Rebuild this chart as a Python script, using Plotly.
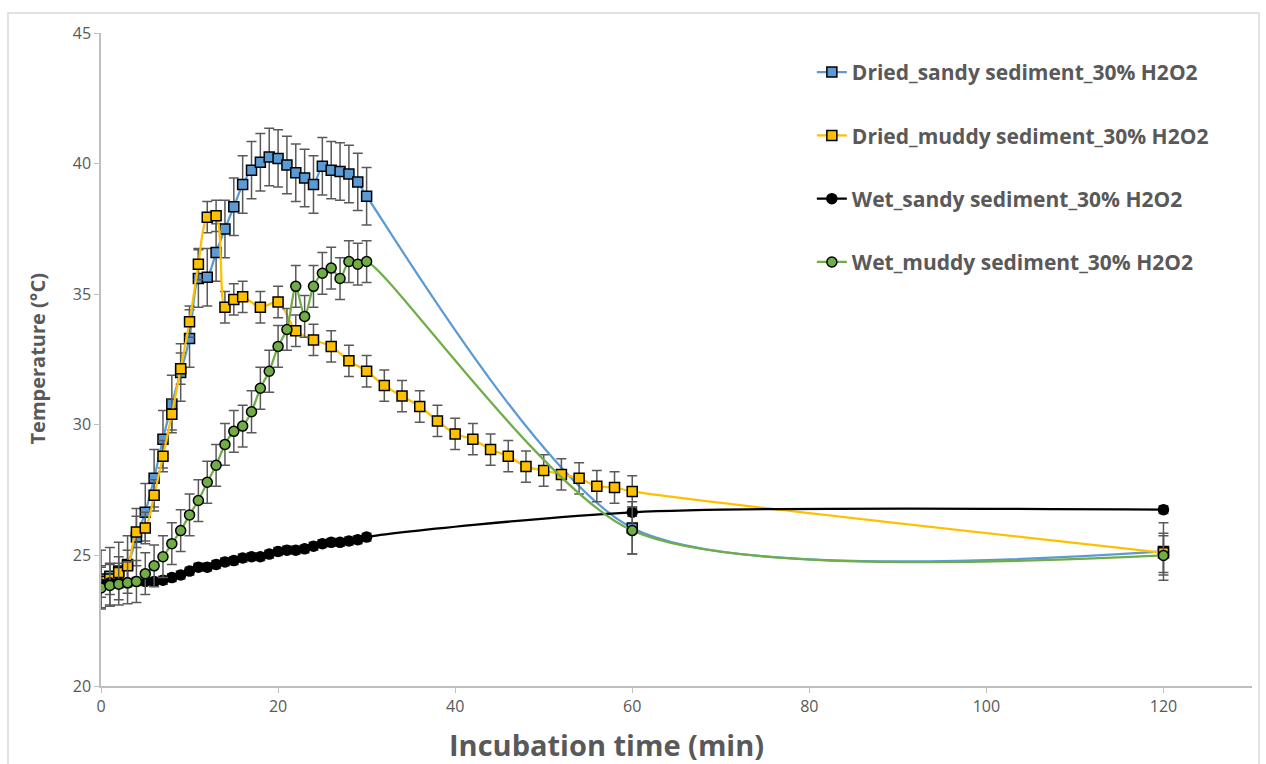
import plotly.graph_objects as go

# ---------------- data ----------------
t_sandy = list(range(0, 31)) + [60, 120]
dried_sandy = [24.1, 24.2, 24.4, 24.65, 25.7, 26.65, 27.95, 29.45, 30.8, 32.0,
               33.3, 35.6, 35.65, 36.6, 37.5, 38.35, 39.2, 39.75, 40.05, 40.25,
               40.2, 39.95, 39.65, 39.45, 39.2, 39.9, 39.75, 39.7, 39.6, 39.3,
               38.75, 26.05, 25.15]
dried_sandy_err = [1.1] * 31 + [1.0, 1.1]

t_muddy_dried = list(range(0, 17)) + list(range(18, 61, 2)) + [120]
dried_muddy = [24.0, 24.1, 24.35, 24.6, 25.9, 26.05, 27.3, 28.8, 30.4, 32.15,
               33.95, 36.15, 37.95, 38.0, 34.5, 34.8, 34.9,
               34.5, 34.7, 33.6, 33.25, 33.0, 32.45, 32.05, 31.5, 31.1, 30.7,
               30.15, 29.65, 29.45, 29.05, 28.8, 28.4, 28.25, 28.1, 27.95, 27.65,
               27.6, 27.45, 25.1]
dried_muddy_err = [0.6] * 39 + [0.75]

t_wet = list(range(0, 31)) + [60, 120]
wet_sandy = [23.9, 23.95, 23.95, 23.95, 24.0, 24.0, 24.0, 24.05, 24.15, 24.25,
             24.4, 24.55, 24.55, 24.65, 24.75, 24.8, 24.9, 24.95, 24.95, 25.05,
             25.15, 25.2, 25.2, 25.25, 25.35, 25.45, 25.5, 25.5, 25.55, 25.6,
             25.7, 26.65, 26.75]
wet_sandy_err = [0.15] * 33

wet_muddy = [23.75, 23.85, 23.9, 23.95, 24.0, 24.3, 24.6, 24.95, 25.45, 25.95,
             26.55, 27.1, 27.8, 28.45, 29.25, 29.75, 29.95, 30.5, 31.4, 32.05,
             33.0, 33.65, 35.3, 34.15, 35.3, 35.8, 36.0, 35.6, 36.25, 36.15,
             36.25, 25.95, 25.0]
wet_muddy_err = [0.8] * 31 + [0.9, 0.75]

names = ["Dried_sandy sediment_30% H2O2", "Dried_muddy sediment_30% H2O2",
         "Wet_sandy sediment_30% H2O2", "Wet_muddy sediment_30% H2O2"]
x_ticks = [0, 20, 40, 60, 80, 100, 120]
y_ticks = [20, 25, 30, 35, 40, 45]

# ---------------- style ----------------
FONT = "Open Sans"
GREY = "#595959"
series = [
    (t_sandy, dried_sandy, dried_sandy_err, "#5B9BD5", "square", 0.75),
    (t_muddy_dried, dried_muddy, dried_muddy_err, "#FFC000", "square", 0.9),
    (t_wet, wet_sandy, wet_sandy_err, "#000000", "circle", 0.8),
    (t_wet, wet_muddy, wet_muddy_err, "#70AD47", "circle", 0.75),
]

fig = go.Figure()
for i, (x, y, e, col, sym, sm) in enumerate(series):
    fig.add_trace(go.Scatter(
        x=x, y=y, name=names[i], mode="lines+markers", legendgroup=str(i),
        line=dict(color=col, width=2.25, shape="spline", smoothing=sm),
        marker=dict(symbol=sym, size=10, color=col,
                    line=dict(color="#000000", width=1.5)),
        error_y=dict(type="data", array=e, visible=True, color=GREY,
                     thickness=1.5, width=5),
    ))

fig.update_layout(
    width=1266, height=764,
    margin=dict(l=101, r=14, t=33, b=78),
    paper_bgcolor="white", plot_bgcolor="white",
    font=dict(family=FONT, color=GREY, size=16),
    showlegend=True,
    legend=dict(x=0.6176, y=0.971, xanchor="left", yanchor="top",
                font=dict(family=FONT, size=21, color=GREY, weight="bold"),
                tracegroupgap=33, bgcolor="rgba(0,0,0,0)"),
    xaxis=dict(range=[0, 130], tickvals=x_ticks, showgrid=False, zeroline=False,
               showline=True, linecolor="#bfbfbf", linewidth=1.5,
               ticks="outside", ticklen=5, tickcolor="#bfbfbf",
               tickfont=dict(size=16, color=GREY)),
    yaxis=dict(range=[20, 45], tickvals=y_ticks, showgrid=False, zeroline=False,
               showline=True, linecolor="#bfbfbf", linewidth=1.5,
               ticks="outside", ticklen=5, tickcolor="#bfbfbf",
               tickfont=dict(size=16, color=GREY)),
    annotations=[
        dict(text="<b>Incubation time (min)</b>", xref="paper", yref="paper",
             x=0.4396, y=-0.0889, xanchor="center", yanchor="middle",
             showarrow=False, font=dict(family=FONT, size=29, color=GREY)),
        dict(text="<b>Temperature (°C)</b>", xref="paper", yref="paper",
             x=-0.0556, y=0.5, xanchor="center", yanchor="middle", textangle=-90,
             showarrow=False, font=dict(family=FONT, size=20, color=GREY)),
    ],
    shapes=[dict(type="rect", xref="paper", yref="paper",
                 x0=(8 - 101) / 1151, x1=(1259 - 101) / 1151,
                 y0=(686 - 775) / 653, y1=1 + (33 - 13) / 653,
                 line=dict(color="#d9d9d9", width=1.5), layer="below")],
)

fig.write_html("out.html", config={"displayModeBar": False},
               post_script="document.body.style.margin='0';")
